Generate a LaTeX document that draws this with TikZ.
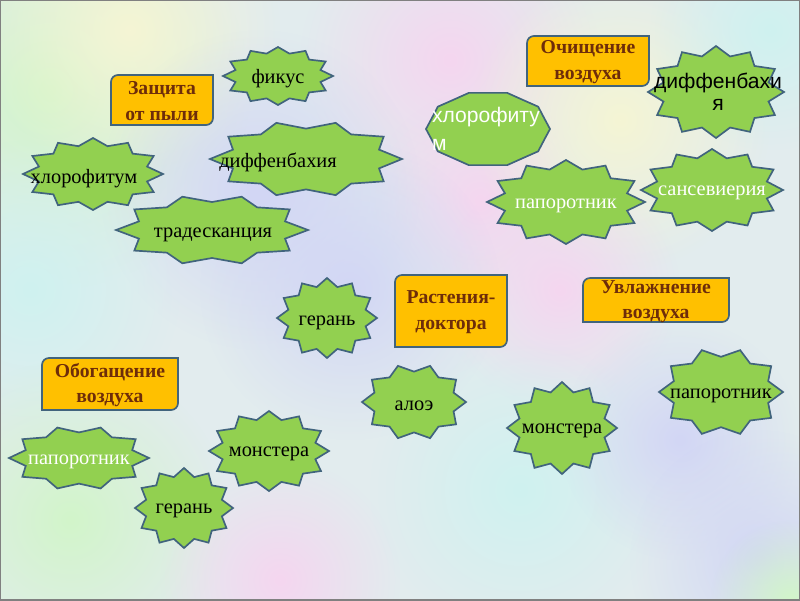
\documentclass[tikz,border=0pt]{standalone}
\usepackage{fontspec}
\setmainfont{Liberation Serif}
\newfontfamily\sansplant{Liberation Sans}
\usetikzlibrary{fadings}

\definecolor{leaf}{RGB}{146,208,80}
\definecolor{rim}{RGB}{65,100,125}
\definecolor{amber}{RGB}{255,192,0}
\definecolor{rust}{RGB}{110,45,10}
\definecolor{paper}{RGB}{226,236,238}
\definecolor{bgpink}{RGB}{245,214,240}
\definecolor{bggreen}{RGB}{210,245,202}
\definecolor{bgblue}{RGB}{210,214,245}
\definecolor{bgcyan}{RGB}{207,242,240}
\definecolor{bgyellow}{RGB}{245,245,212}
\tikzfading[name=blob, inner color=transparent!0, outer color=transparent!100]

% star-like seal: x, y, rx, ry, points, inner ratio
\newcommand\seal[6]{%
  \pgfmathtruncatemacro\sealn{2*#5-1}
  \draw[sealline] ({#1+#3},#2)
    \foreach \k [evaluate=\k as \r using {1-(1-#6)*mod(\k,2)}] in {1,...,\sealn}
      { -- ({#1+#3*\r*cos(\k*180/#5)},{#2+#4*\r*sin(\k*180/#5)}) } -- cycle;}

% label box, two corners rounded: x, y, half width, half height
\newcommand\tagbox[4]{%
  \draw[tagline] ({#1-#3},{#2-#4+7}) arc[start angle=180, end angle=90, radius=0.175cm]
    -- ({#1+#3},{#2-#4}) -- ({#1+#3},{#2+#4-7}) arc[start angle=0, end angle=-90, radius=0.175cm]
    -- ({#1-#3},{#2+#4}) -- cycle;}

\begin{document}
\begin{tikzpicture}[x=0.025cm, y=-0.025cm,
  sealline/.style={draw=rim, fill=leaf, line width=1.2pt},
  tagline/.style={draw=rim, fill=amber, line width=1.2pt},
  plant/.style={font=\fontsize{14.5}{16}\selectfont, yshift=-0.07cm},
  pale/.style={plant, text=white},
  tagtext/.style={font=\fontsize{14}{18}\selectfont\bfseries, text=rust, align=center}]

  % background
  \useasboundingbox (0,0) rectangle (800,600);
  \fill[paper] (0,0) rectangle (800,600);
  \foreach \x/\y/\s/\c in {50/90/200/bggreen, 130/30/150/bgyellow, 450/60/150/bgpink,
      480/200/110/bgpink, 260/190/160/bgblue, 620/120/150/bgyellow, 770/30/120/bgcyan,
      30/290/150/bgcyan, 560/290/120/bgpink, 350/290/150/bgblue, 70/520/160/bggreen,
      280/580/120/bgpink, 520/490/150/bgcyan, 680/440/120/bgblue, 760/560/130/bgblue,
      790/600/80/bggreen}
    \fill[\c, path fading=blob] (\x,\y) circle[radius=\s];
  \draw[gray, line width=1.5pt] (0,0) rectangle (800,600);

  % headings
  \tagbox{162}{100}{51}{25}
  \node[tagtext] (dust) at (162,101) {Защита\\от пыли};
  \tagbox{588}{61}{61}{25}
  \node[tagtext] (clean) at (588,62) {Очищение\\воздуха};
  \tagbox{451}{311}{56}{36}
  \node[tagtext] (doctors) at (451,312) {Растения-\\доктора};
  \tagbox{656}{300}{73}{22}
  \node[tagtext] (humid) at (656,302) {Увлажнение\\воздуха};
  \tagbox{110}{384}{68}{26}
  \node[tagtext] (enrich) at (110,385) {Обогащение\\воздуха};

  % plants
  \seal{278}{76}{55}{29}{12}{.8}
  \node[plant] (ficus) at (278,76) {фикус};
  \seal{93}{174}{70}{36}{12}{.8}
  \node[plant] (chloroA) at (84,176) {хлорофитум};
  \seal{306}{159}{96}{38}{10}{.8}
  \node[plant] (dieffA) at (278,160) {диффенбахия};
  \seal{212}{230}{96}{35}{10}{.8}
  \node[plant] (trades) at (213,232) {традесканция};
  \seal{488}{129}{62}{38}{10}{.95}
  \node[text=white, align=left, font=\sansplant\fontsize{15}{20}\selectfont] (chloroB) at (486,129) {хлорофиту\\м};
  \seal{716}{92}{68}{46}{12}{.8}
  \node[align=center, font=\sansplant\fontsize{15}{16}\selectfont] (dieffB) at (718,92) {диффенбахи\\я};
  \seal{566}{202}{79}{42}{12}{.8}
  \node[pale] (fernA) at (566,203) {папоротник};
  \seal{712}{190}{71}{41}{12}{.8}
  \node[pale] (sansev) at (712,190) {сансевиерия};
  \seal{327}{318}{50}{40}{12}{.8}
  \node[plant] (gerA) at (327,320) {герань};
  \seal{414}{402}{52}{38}{10}{.8}
  \node[plant] (aloe) at (414,403) {алоэ};
  \seal{562}{428}{55}{46}{12}{.8}
  \node[plant] (monA) at (562,428) {монстера};
  \seal{721}{392}{62}{44}{10}{.8}
  \node[plant] (fernB) at (721,393) {папоротник};
  \seal{79}{458}{70}{32}{10}{.8}
  \node[pale] (fernC) at (79,459) {папоротник};
  \seal{269}{451}{60}{40}{12}{.8}
  \node[plant] (monB) at (269,451) {монстера};
  \seal{184}{508}{49}{40}{12}{.8}
  \node[plant] (gerB) at (184,508) {герань};
\end{tikzpicture}
\end{document}
